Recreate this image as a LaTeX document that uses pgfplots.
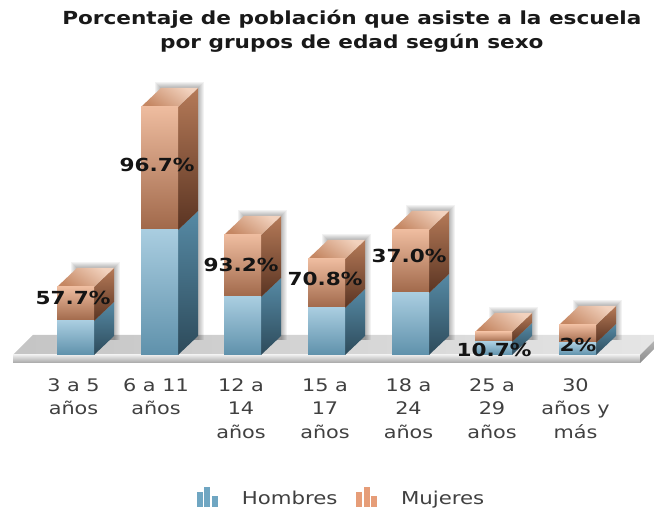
\documentclass[border=0pt]{standalone}
\usepackage{pgfplots}
\pgfplotsset{compat=1.18}
\usepackage{fontspec}
\setmainfont[FakeStretch=1.2]{DejaVu Sans}
\definecolor{hft}{HTML}{A9CDE0}\definecolor{hfb}{HTML}{5F91AB}
\definecolor{hst}{HTML}{568AA5}\definecolor{hsb}{HTML}{2D4A5A}
\definecolor{mft}{HTML}{EEBC9F}\definecolor{mfb}{HTML}{A0684A}
\definecolor{mst}{HTML}{B57A58}\definecolor{msb}{HTML}{5A3422}
\definecolor{ttd}{HTML}{C58763}\definecolor{ttl}{HTML}{F2D2BE}
\definecolor{lgh}{HTML}{6FA6C2}\definecolor{lgm}{HTML}{E69D78}
% x: front-right edge of each bar, heights in picture pixels above the floor edge
\newcommand\sideface[5]{%
  \pgfmathsetmacro\xb{#1+20}\pgfmathsetmacro\ya{#2+19}\pgfmathsetmacro\yb{#3+19}%
  \addplot[draw=none,bottom color=#5,top color=#4] coordinates {(#1,#2)(\xb,\ya)(\xb,\yb)(#1,#3)} -- cycle;}
\newcommand\topface[2]{%
  \pgfmathsetmacro\xa{#1-37}\pgfmathsetmacro\xb{#1+20}\pgfmathsetmacro\xc{#1-17}\pgfmathsetmacro\yb{#2+19}%
  \addplot[draw=none,bottom color=ttd,top color=ttl,shading angle=-35] coordinates {(\xa,#2)(#1,#2)(\xb,\yb)(\xc,\yb)} -- cycle;}
\newcommand\shadowrect[3]{%
  \pgfmathsetmacro\xa{#1-17-#3}\pgfmathsetmacro\xb{#1+20+#3}\pgfmathsetmacro\yb{#2+19+#3}%
  \addplot[draw=none,fill=black,opacity=0.05] coordinates {(\xa,15)(\xb,15)(\xb,\yb)(\xa,\yb)} -- cycle;}
\newcommand\barback[3]{% right edge, hombres, total
  \shadowrect{#1}{#3}{1}\shadowrect{#1}{#3}{2}\shadowrect{#1}{#3}{3}\shadowrect{#1}{#3}{4}\shadowrect{#1}{#3}{5}\shadowrect{#1}{#3}{6}%
  \sideface{#1}{0}{#2}{hst}{hsb}\sideface{#1}{#2}{#3}{mst}{msb}\topface{#1}{#3}}
\pgfplotsset{canvas/.style={scale only axis,width=490.5pt,height=383.25pt,
  at={(0,0)},anchor=south west,xmin=0,xmax=654,ymin=-156,ymax=355,
  axis line style={draw=none},tick style={draw=none},ytick=\empty}}
\newcommand\frontbar[3]{% centre, hombres, mujeres
  \begin{axis}[canvas,xtick=\empty,clip=false,ybar stacked,bar width=27.75pt]
  \addplot[draw=none,top color=hft,bottom color=hfb] coordinates {(#1,#2)};
  \addplot[draw=none,top color=mft,bottom color=mfb] coordinates {(#1,#3)};
  \end{axis}}
\begin{document}
\begin{tikzpicture}
\useasboundingbox (0,0) rectangle (490.5pt,383.25pt);
\begin{axis}[canvas,xtick=\empty]
\addplot[draw=none,left color=black!23,right color=black!10] coordinates {(13,0)(33,20)(660,20)(640,0)} -- cycle;
\addplot[draw=none,top color=black!8,bottom color=black!35] coordinates {(13,0)(640,0)(640,-8)(13,-8)} -- cycle;
\addplot[draw=none,top color=black!25,bottom color=black!45] coordinates {(640,0)(660,20)(660,12)(640,-8)} -- cycle;
\barback{94}{34}{68}
\barback{178}{125}{248}
\barback{261}{58}{120}
\barback{345}{47}{96}
\barback{429}{62}{125}
\barback{512}{13}{23}
\barback{596}{12}{30}
\end{axis}
\frontbar{75.5}{34}{34}
\frontbar{159.5}{125}{123}
\frontbar{242.5}{58}{62}
\frontbar{326.5}{47}{49}
\frontbar{410.5}{62}{63}
\frontbar{493.5}{13}{10}
\frontbar{577.5}{12}{18}
\begin{axis}[canvas,clip=false,
  xtick={73.5,156,241,325,408.5,492,575.5},
  xticklabels={{\strut 3 a 5\\años},{\strut 6 a 11\\años},{\strut 12 a\\14\\años},{\strut 15 a\\17\\años},{\strut 18 a\\24\\años},{\strut 25 a\\29\\años},{\strut 30\\años y\\más}},
  xticklabel style={align=center,anchor=north,yshift=105.5pt,text=black!75,font=\fontsize{13}{17.6}\selectfont},
  title={Porcentaje de población que asiste a la escuela\\por grupos de edad según sexo},
  title style={at={(0.538,0.923)},anchor=center,align=center,font=\bfseries\fontsize{13.5}{18}\selectfont,text=black!90},
  legend style={at={(axis cs:342,-143)},anchor=center,draw=none,fill=none,legend columns=2,
    font=\fontsize{13.3}{13.3}\selectfont,text=black!75,
    /tikz/every odd column/.append style={column sep=16pt},
    /tikz/every even column/.append style={column sep=12pt}},
  legend cell align=left,
  legend image code/.code={
    \fill[#1,draw=none] (0pt,-6.5pt) rectangle (4.4pt,5pt);
    \fill[#1,draw=none] (5.6pt,-6.5pt) rectangle (10pt,9pt);
    \fill[#1,draw=none] (11.2pt,-6.5pt) rectangle (15.6pt,2pt);},
]
\addlegendimage{fill=lgh}
\addlegendimage{fill=lgm}
\legend{Hombres,Mujeres}
\tikzset{lab/.style={font=\bfseries\fontsize{13.5}{14}\selectfont,text=black!92,anchor=center}}
\node[lab] at (axis cs:73,57) {57.7\%};
\node[lab] at (axis cs:157,190) {96.7\%};
\node[lab] at (axis cs:241,90) {93.2\%};
\node[lab] at (axis cs:325,76) {70.8\%};
\node[lab] at (axis cs:409,99) {37.0\%};
\node[lab] at (axis cs:494,5) {10.7\%};
\node[lab] at (axis cs:578,10) {2\%};
\end{axis}
\end{tikzpicture}
\end{document}
